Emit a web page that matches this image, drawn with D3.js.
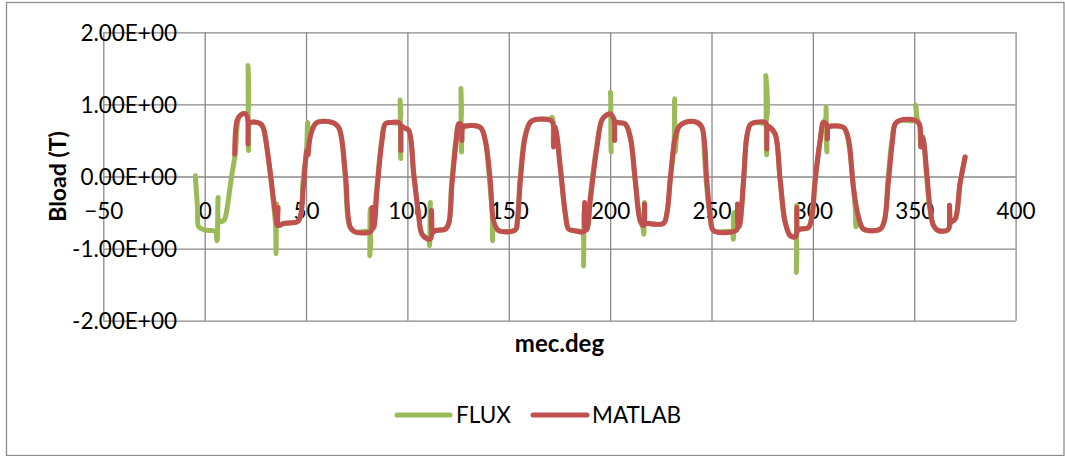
<!DOCTYPE html>
<html>
<head>
<meta charset="utf-8">
<script src="https://cdn.jsdelivr.net/npm/d3@7"></script>
<style>
  html, body { margin: 0; padding: 0; background: #fff; }
  svg { display: block; }
  text { font-family: Lato, "Open Sans", sans-serif; fill: #000; }
</style>
</head>
<body>
<svg id="chart" width="1065" height="456"></svg>
<script>
// Axis ticks
const xTicks = [-50, 0, 50, 100, 150, 200, 250, 300, 350, 400];
const yTicks = [-2, -1, 0, 1, 2];

// MATLAB model: B load (T) against mechanical angle (deg)
const matlabDeg = [14.8, 16.0, 17.6, 20.1, 21.2, 21.4, 21.8, 22.5, 25.8, 28.0, 29.1, 31.6, 34.0, 35.3, 35.8, 36.2, 36.6, 39.0, 45.6, 47.2, 48.8, 50.5, 51.0, 51.4, 53.0, 55.4, 62.8, 66.1, 69.4, 71.8, 74.3, 81.7, 82.4, 82.6, 82.9, 83.5, 85.0, 87.5, 89.1, 91.6, 95.7, 96.5, 96.8, 97.2, 98.1, 100.6, 103.1, 105.5, 107.2, 110.5, 111.6, 111.9, 112.2, 113.8, 118.7, 120.4, 122.0, 124.1, 125.3, 126.5, 126.9, 127.3, 128.5, 136.0, 138.4, 140.9, 142.5, 145.0, 153.2, 154.3, 155.7, 158.1, 160.6, 163.1, 170.5, 171.8, 172.1, 172.5, 172.9, 175.4, 177.9, 179.5, 182.0, 186.1, 187.2, 187.4, 187.7, 188.6, 190.2, 193.5, 195.9, 198.0, 200.0, 201.8, 202.2, 202.6, 203.4, 207.4, 209.9, 212.4, 214.8, 216.6, 217.0, 217.4, 218.2, 226.3, 228.0, 229.6, 231.8, 233.7, 237.0, 242.8, 245.3, 247.7, 249.4, 251.0, 260.1, 262.5, 262.8, 263.2, 263.8, 265.8, 267.4, 269.1, 271.5, 276.5, 277.1, 277.3, 277.7, 278.9, 281.4, 283.9, 286.3, 288.8, 291.3, 291.9, 292.1, 292.5, 293.7, 297.8, 299.5, 301.1, 303.6, 305.2, 306.8, 307.2, 307.6, 309.4, 315.1, 316.5, 318.0, 320.0, 322.5, 325.0, 333.2, 335.3, 337.3, 339.3, 340.6, 343.0, 350.4, 352.6, 353.2, 353.6, 354.5, 356.2, 357.8, 359.5, 361.9, 366.1, 367.1, 367.4, 367.8, 368.2, 370.2, 372.6, 375.1];
const matlabB = [0.31, 0.78, 0.85, 0.87, 0.80, 0.45, 0.74, 0.75, 0.75, 0.72, 0.66, 0.22, -0.33, -0.60, -0.68, -0.43, -0.68, -0.65, -0.63, -0.56, -0.10, 0.36, 0.30, 0.44, 0.64, 0.75, 0.75, 0.68, 0.04, -0.70, -0.77, -0.77, -0.74, -0.43, -0.72, -0.70, -0.19, 0.50, 0.73, 0.75, 0.75, 0.72, 0.36, 0.70, 0.68, 0.64, 0.04, -0.52, -0.80, -0.87, -0.86, -0.47, -0.78, -0.75, -0.73, -0.65, -0.10, 0.50, 0.73, 0.72, 0.50, 0.68, 0.70, 0.68, 0.50, -0.06, -0.61, -0.75, -0.74, -0.60, -0.06, 0.55, 0.75, 0.79, 0.78, 0.74, 0.41, 0.68, 0.68, 0.13, -0.52, -0.73, -0.75, -0.77, -0.76, -0.36, -0.74, -0.73, -0.33, 0.41, 0.78, 0.85, 0.87, 0.80, 0.50, 0.76, 0.75, 0.73, 0.55, -0.06, -0.61, -0.68, -0.38, -0.65, -0.65, -0.65, -0.51, -0.06, 0.50, 0.68, 0.75, 0.75, 0.68, -0.06, -0.56, -0.75, -0.77, -0.74, -0.38, -0.70, -0.68, -0.06, 0.55, 0.72, 0.75, 0.75, 0.72, 0.38, 0.70, 0.68, 0.59, -0.06, -0.63, -0.82, -0.84, -0.80, -0.43, -0.75, -0.73, -0.71, -0.56, -0.06, 0.50, 0.75, 0.72, 0.52, 0.68, 0.70, 0.68, 0.62, 0.45, -0.15, -0.56, -0.73, -0.73, -0.61, -0.06, 0.50, 0.73, 0.78, 0.78, 0.72, 0.41, 0.55, 0.50, 0.04, -0.43, -0.68, -0.75, -0.75, -0.72, -0.40, -0.65, -0.63, -0.59, -0.10, 0.27];

// FLUX finite-element result: B load (T) against mechanical angle (deg)
const fluxDeg = [-4.6, -3.5, -2.9, 0.0, 3.6, 5.3, 6.1, 6.6, 7.2, 9.5, 10.7, 13.0, 15.1, 16.8, 18.5, 20.1, 21.2, 21.4, 21.6, 22.0, 22.5, 25.8, 28.0, 29.1, 31.6, 34.0, 35.0, 35.2, 35.5, 35.9, 39.0, 45.6, 47.2, 48.6, 50.3, 50.8, 51.2, 51.8, 53.0, 55.4, 62.8, 66.1, 69.2, 71.6, 74.3, 81.2, 81.4, 81.7, 82.3, 83.3, 84.8, 87.3, 89.0, 91.6, 96.0, 96.4, 96.7, 97.2, 98.1, 100.6, 103.1, 105.5, 107.2, 110.5, 110.9, 111.3, 111.8, 113.8, 118.7, 120.4, 121.8, 123.9, 125.3, 126.2, 126.4, 126.7, 127.3, 128.5, 136.0, 138.4, 140.5, 141.8, 142.0, 142.5, 145.0, 153.2, 154.3, 155.5, 157.9, 160.4, 163.1, 170.5, 171.5, 172.0, 172.5, 172.9, 175.4, 177.9, 179.5, 182.0, 186.1, 186.7, 186.9, 187.2, 187.7, 188.6, 190.0, 193.3, 195.8, 198.0, 199.8, 200.2, 200.5, 201.0, 202.6, 203.4, 207.4, 209.9, 212.4, 214.8, 216.3, 216.6, 216.9, 217.4, 218.2, 226.3, 228.0, 229.6, 231.5, 231.8, 232.1, 232.8, 233.7, 237.0, 242.8, 245.3, 246.5, 247.5, 249.4, 251.0, 260.1, 260.8, 261.1, 262.8, 263.2, 263.8, 265.8, 267.4, 269.1, 271.5, 276.5, 276.8, 277.2, 277.7, 278.9, 281.4, 283.9, 286.3, 288.8, 291.3, 291.8, 292.1, 292.5, 293.7, 297.8, 299.5, 301.1, 303.6, 305.2, 306.3, 306.5, 306.9, 307.6, 309.4, 315.1, 316.8, 318.0, 320.0, 321.0, 321.3, 322.5, 325.0, 333.2, 335.3, 337.0, 339.0, 340.6, 343.0, 350.4, 350.7, 351.5, 352.6, 353.2, 354.2, 356.0, 357.6, 359.5, 361.9, 366.1, 367.1, 367.4, 367.8, 368.2, 370.2, 372.6, 375.1];
const fluxB = [0.01, -0.45, -0.70, -0.74, -0.75, -0.76, -0.89, -0.29, -0.62, -0.61, -0.50, -0.05, 0.32, 0.82, 0.87, 0.87, 0.85, 1.54, 0.36, 0.74, 0.75, 0.75, 0.72, 0.66, 0.20, -0.38, -0.70, -1.07, -0.38, -0.68, -0.65, -0.63, -0.56, -0.05, 0.40, 0.75, 0.36, 0.55, 0.66, 0.75, 0.75, 0.68, 0.04, -0.70, -0.77, -0.77, -1.10, -0.45, -0.74, -0.60, -0.19, 0.50, 0.73, 0.75, 0.75, 1.06, 0.25, 0.70, 0.68, 0.64, 0.04, -0.52, -0.80, -0.87, -0.96, -0.36, -0.78, -0.75, -0.73, -0.65, -0.10, 0.50, 0.73, 0.74, 1.22, 0.34, 0.68, 0.70, 0.68, 0.50, -0.06, -0.50, -0.89, -0.70, -0.75, -0.74, -0.60, -0.06, 0.55, 0.75, 0.79, 0.80, 0.82, 0.45, 0.68, 0.68, 0.13, -0.52, -0.73, -0.75, -0.77, -0.80, -1.24, -0.50, -0.74, -0.73, -0.33, 0.41, 0.78, 0.85, 0.87, 1.17, 0.34, 0.80, 0.76, 0.75, 0.73, 0.55, -0.06, -0.61, -0.72, -0.80, -0.36, -0.65, -0.65, -0.65, -0.51, -0.06, 0.45, 1.08, 0.34, 0.55, 0.68, 0.75, 0.75, 0.68, 0.30, -0.10, -0.56, -0.75, -0.77, -0.87, -0.50, -0.60, -0.70, -0.68, -0.06, 0.55, 0.72, 0.75, 0.75, 1.40, 0.30, 0.70, 0.68, 0.59, -0.06, -0.63, -0.82, -0.84, -1.33, -0.40, -0.75, -0.73, -0.71, -0.56, -0.06, 0.50, 0.75, 0.80, 0.96, 0.34, 0.68, 0.70, 0.68, 0.58, 0.40, -0.15, -0.50, -0.70, -0.60, -0.73, -0.73, -0.61, -0.06, 0.50, 0.73, 0.78, 0.78, 0.99, 0.80, 0.72, 0.45, 0.55, 0.04, -0.43, -0.68, -0.75, -0.75, -0.72, -0.40, -0.65, -0.63, -0.59, -0.10, 0.27];

const seriesNames = ["FLUX", "MATLAB"];
const seriesColors = ["#9BBB59", "#C0504D"];

const svg = d3.select("#chart");
const W = 1065, H = 456;
const plot = { left: 103.3, right: 1015.6, top: 32.3, bottom: 320.7 };

// Outer chart frame
svg.append("rect")
  .attr("x", 6.5).attr("y", 2.5)
  .attr("width", W - 7.5).attr("height", H - 3)
  .attr("fill", "#fff").attr("stroke", "#8c8c8c").attr("stroke-width", 1.3);

const x = d3.scaleLinear().domain([-50, 400]).range([plot.left, plot.right]);
const y = d3.scaleLinear().domain([-2, 2]).range([plot.bottom, plot.top]);

const sciFmt = d => {
  const [m, e] = d.toExponential(2).split("e");
  const ev = Math.abs(+e);
  return m + "E" + (+e < 0 ? "-" : "+") + String(ev).padStart(2, "0");
};

// Gridlines
const gridColor = "#898989";
svg.append("g")
  .attr("transform", `translate(0,${plot.bottom})`)
  .call(d3.axisBottom(x).tickValues(xTicks).tickSize(-(plot.bottom - plot.top)).tickFormat(""))
  .call(g => g.select(".domain").remove())
  .call(g => g.selectAll("line").attr("stroke", gridColor).attr("stroke-width", 1.3));
svg.append("g")
  .attr("transform", `translate(${plot.left},0)`)
  .call(d3.axisLeft(y).tickValues(yTicks).tickSize(-(plot.right - plot.left)).tickFormat(""))
  .call(g => g.select(".domain").remove())
  .call(g => g.selectAll("line").attr("stroke", gridColor).attr("stroke-width", 1.3));

const tickFont = 22.5;

// Y tick labels
svg.append("g")
  .attr("transform", `translate(177,0)`)
  .call(d3.axisLeft(y).tickValues(yTicks).tickSize(0).tickPadding(0).tickFormat(sciFmt))
  .call(g => g.select(".domain").remove())
  .call(g => g.selectAll("text")
    .attr("x", 0).attr("dy", null).attr("y", tickFont * 0.36)
    .style("font-size", tickFont + "px").attr("font-family", null));

// X tick labels, hanging below the zero line
svg.append("g")
  .attr("transform", `translate(0,${y(0)})`)
  .call(d3.axisBottom(x).tickValues(xTicks).tickSize(0).tickPadding(0))
  .call(g => g.select(".domain").remove())
  .call(g => g.selectAll("text")
    .attr("dy", null).attr("y", 42.3)
    .style("font-size", tickFont + "px").attr("font-family", null));

// Series lines
const line = (xs, ys) => d3.line()
  .x(i => x(xs[i])).y(i => y(ys[i]))
  .curve(d3.curveCatmullRom.alpha(0.5))(d3.range(xs.length));

const seriesData = [[fluxDeg, fluxB], [matlabDeg, matlabB]];
seriesData.forEach(([xs, ys], k) => {
  svg.append("path")
    .attr("d", line(xs, ys))
    .attr("fill", "none")
    .attr("stroke", seriesColors[k])
    .attr("stroke-width", 5)
    .attr("stroke-linejoin", "round")
    .attr("stroke-linecap", "round");
});

// Axis titles
svg.append("text")
  .attr("transform", `translate(66,${(plot.top + plot.bottom) / 2}) rotate(-90)`)
  .attr("text-anchor", "middle")
  .style("font-size", "23px").style("font-weight", "bold")
  .text("Bload (T)");
svg.append("text")
  .attr("x", (plot.left + plot.right) / 2).attr("y", 352)
  .attr("text-anchor", "middle")
  .style("font-size", "24px").style("font-weight", "bold")
  .text("mec.deg");

// Legend
const legendItems = [
  { x0: 397, x1: 450, tx: 456 },
  { x0: 533, x1: 587, tx: 592 }
];
legendItems.forEach((it, k) => {
  svg.append("line")
    .attr("x1", it.x0).attr("x2", it.x1).attr("y1", 415).attr("y2", 415)
    .attr("stroke", seriesColors[k]).attr("stroke-width", 5)
    .attr("stroke-linecap", "round");
  svg.append("text")
    .attr("x", it.tx).attr("y", 423)
    .style("font-size", tickFont + "px")
    .text(seriesNames[k]);
});
</script>
</body>
</html>
